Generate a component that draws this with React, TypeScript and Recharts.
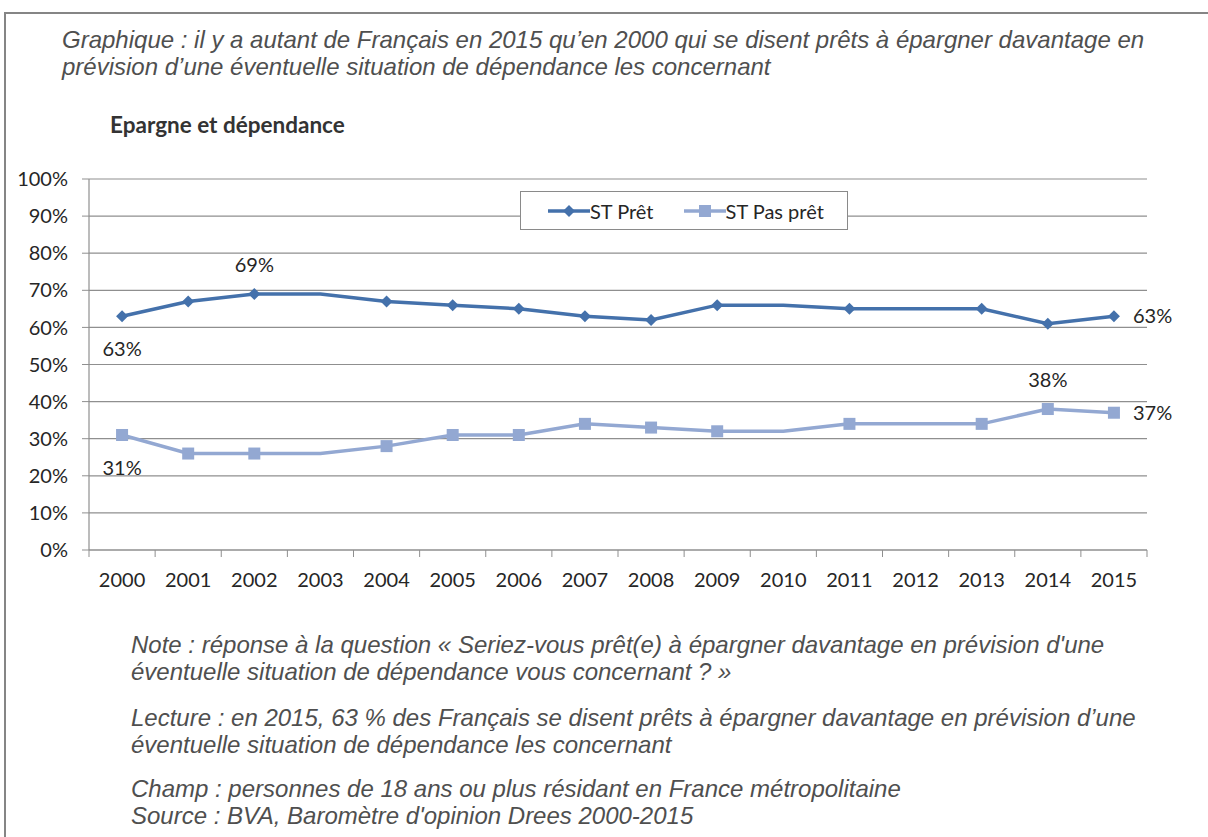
import { LineChart, Line, XAxis, YAxis, CartesianGrid, LabelList } from 'recharts';

const years = ['2000', '2001', '2002', '2003', '2004', '2005', '2006', '2007', '2008', '2009', '2010', '2011', '2012', '2013', '2014', '2015'];
const pretValues = [63, 67, 69, 69, 67, 66, 65, 63, 62, 66, 66, 65, 65, 65, 61, 63];
const pasPretValues = [31, 26, 26, 26, 28, 31, 31, 34, 33, 32, 32, 34, 34, 34, 38, 37];
const yTicks = [0, 10, 20, 30, 40, 50, 60, 70, 80, 90, 100];
// years drawn without a marker in the original
const hiddenMarkerYears = ['2003', '2010', '2012'];
// where each labelled point puts its value
const pretLabels: Record<string, string> = { '2000': 'below', '2002': 'above', '2015': 'right' };
const pasPretLabels: Record<string, string> = { '2000': 'below', '2014': 'above', '2015': 'right' };

const data = years.map((year, i) => ({ year, pret: pretValues[i], pasPret: pasPretValues[i] }));

const COLORS = {
  pret: '#4471AB',
  pasPret: '#93A8D2',
  grid: '#8f8f8f',
  text: '#262626',
  note: '#4f4f4f',
};

const FONT = 'Lato, "Open Sans", sans-serif';
const ITALIC = '"Liberation Sans", Arial, sans-serif';

const PLOT_LEFT = 89;
const PLOT_RIGHT = 1147;
const HALF_BAND = (PLOT_RIGHT - PLOT_LEFT) / years.length / 2;

const makeDot = (shape: 'diamond' | 'square', color: string) => (props: any) => {
  const { cx, cy, payload, index } = props;
  if (hiddenMarkerYears.includes(payload.year) || cx == null) return <g key={`d-${index}`} />;
  const s = 6;
  if (shape === 'diamond') {
    return (
      <polygon
        key={`d-${index}`}
        points={`${cx},${cy - s} ${cx + s},${cy} ${cx},${cy + s} ${cx - s},${cy}`}
        fill={color}
      />
    );
  }
  return <rect key={`d-${index}`} x={cx - s} y={cy - s} width={s * 2} height={s * 2} fill={color} />;
};

const makeLabel = (placements: Record<string, string>) => (props: any) => {
  const { x, y, index, value } = props;
  const pos = placements[years[index]];
  if (!pos) return null;
  let tx = x;
  let ty = y;
  let anchor: 'middle' | 'start' = 'middle';
  if (pos === 'below') ty = y + 33;
  if (pos === 'above') ty = y - 29;
  if (pos === 'right') {
    tx = x + 19;
    anchor = 'start';
  }
  return (
    <text
      key={`l-${index}`}
      x={tx}
      y={ty}
      dy="0.35em"
      textAnchor={anchor}
      fill={COLORS.text}
      fontSize={20}
      fontFamily={FONT}
    >
      {value}%
    </text>
  );
};

const XTick = (props: any) => {
  const { x, y, payload, index } = props;
  const last = index === years.length - 1;
  return (
    <g>
      <line x1={x - HALF_BAND} y1={y} x2={x - HALF_BAND} y2={y + 7} stroke={COLORS.grid} />
      {last && <line x1={x + HALF_BAND} y1={y} x2={x + HALF_BAND} y2={y + 7} stroke={COLORS.grid} />}
      <text x={x} y={y + 37} textAnchor="middle" fill={COLORS.text} fontSize={20} fontFamily={FONT}>
        {payload.value}
      </text>
    </g>
  );
};

const legendItems = [
  { name: 'ST Prêt', color: COLORS.pret, shape: 'diamond' },
  { name: 'ST Pas prêt', color: COLORS.pasPret, shape: 'square' },
];

function LegendBox() {
  return (
    <div
      style={{
        position: 'absolute',
        left: 520,
        top: 191,
        width: 328,
        height: 39,
        boxSizing: 'border-box',
        border: '1.5px solid #8a8a8a',
        background: '#fff',
        display: 'flex',
        alignItems: 'center',
        paddingLeft: 27,
        gap: 30,
        fontFamily: FONT,
        fontSize: 20,
        color: COLORS.text,
      }}
    >
      {legendItems.map((item) => (
        <div key={item.name} style={{ display: 'flex', alignItems: 'center' }}>
          <svg width={42} height={14}>
            <line x1={0} y1={7} x2={42} y2={7} stroke={item.color} strokeWidth={3.5} />
            {item.shape === 'diamond' ? (
              <polygon points="21,1 27,7 21,13 15,7" fill={item.color} />
            ) : (
              <rect x={15} y={1} width={12} height={12} fill={item.color} />
            )}
          </svg>
          <span>{item.name}</span>
        </div>
      ))}
    </div>
  );
}

const textLine = (top: number, left: number, content: string) => (
  <div
    style={{
      position: 'absolute',
      top,
      left,
      whiteSpace: 'nowrap',
      fontFamily: ITALIC,
      fontStyle: 'italic',
      fontSize: 24,
      lineHeight: '27px',
      color: COLORS.note,
    }}
  >
    {content}
  </div>
);

export default function App() {
  return (
    <div style={{ position: 'absolute', left: 0, top: 0, width: 1208, height: 837, overflow: 'hidden', background: '#fff' }}>
      <div
        style={{
          position: 'absolute',
          left: 4,
          top: 12,
          width: 1300,
          height: 900,
          border: '2px solid #858585',
        }}
      />
      {textLine(26, 62, 'Graphique : il y a autant de Français en 2015 qu’en 2000 qui se disent prêts à épargner davantage en')}
      {textLine(53, 62, 'prévision d’une éventuelle situation de dépendance les concernant')}
      <div
        style={{
          position: 'absolute',
          left: 110,
          top: 111,
          fontFamily: FONT,
          fontWeight: 700,
          fontSize: 22.5,
          lineHeight: '28px',
          color: '#333',
        }}
      >
        Epargne et dépendance
      </div>

      <div style={{ position: 'absolute', left: 0, top: 0 }}>
        <LineChart
          width={1208}
          height={837}
          data={data}
          margin={{ top: 179, right: 1208 - PLOT_RIGHT, bottom: 247, left: 30 }}
        >
          <CartesianGrid vertical={false} stroke={COLORS.grid} strokeWidth={1.2} />
          <XAxis
            dataKey="year"
            interval={0}
            height={40}
            padding={{ left: HALF_BAND, right: HALF_BAND }}
            tickSize={0}
            tickMargin={0}
            tickLine={false}
            axisLine={{ stroke: COLORS.grid, strokeWidth: 1.2 }}
            tick={<XTick />}
          />
          <YAxis
            domain={[0, 100]}
            ticks={yTicks}
            width={59}
            tickSize={7}
            tickMargin={14}
            tickLine={{ stroke: COLORS.grid }}
            axisLine={{ stroke: COLORS.grid, strokeWidth: 1.2 }}
            tickFormatter={(v: number) => `${v}%`}
            tick={{ fill: COLORS.text, fontSize: 20, fontFamily: FONT }}
          />
          <Line
            dataKey="pret"
            stroke={COLORS.pret}
            strokeWidth={3.5}
            dot={makeDot('diamond', COLORS.pret)}
            activeDot={false}
            isAnimationActive={false}
          >
            <LabelList dataKey="pret" content={makeLabel(pretLabels)} />
          </Line>
          <Line
            dataKey="pasPret"
            stroke={COLORS.pasPret}
            strokeWidth={3.5}
            dot={makeDot('square', COLORS.pasPret)}
            activeDot={false}
            isAnimationActive={false}
          >
            <LabelList dataKey="pasPret" content={makeLabel(pasPretLabels)} />
          </Line>
        </LineChart>
      </div>

      <LegendBox />

      {textLine(631, 131, 'Note : réponse à la question « Seriez-vous prêt(e) à épargner davantage en prévision d\'une')}
      {textLine(658, 131, 'éventuelle situation de dépendance vous concernant ? »')}
      {textLine(704, 131, 'Lecture : en 2015, 63 % des Français se disent prêts à épargner davantage en prévision d’une')}
      {textLine(731, 131, 'éventuelle situation de dépendance les concernant')}
      {textLine(775, 131, 'Champ : personnes de 18 ans ou plus résidant en France métropolitaine')}
      {textLine(802, 131, 'Source : BVA, Baromètre d\'opinion Drees 2000-2015')}
    </div>
  );
}
